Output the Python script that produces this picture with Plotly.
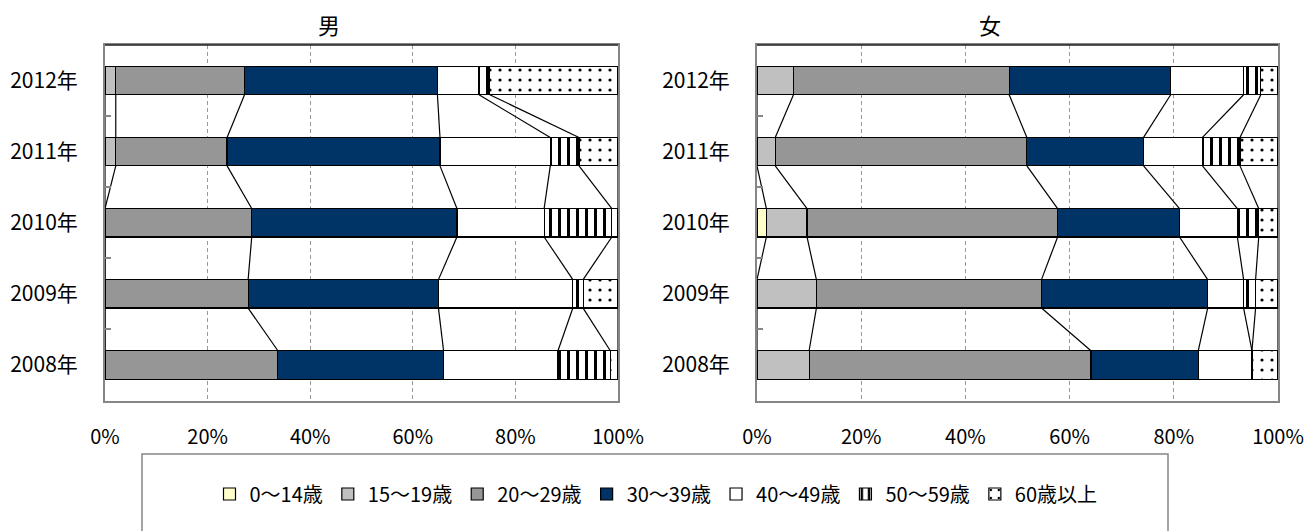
import numpy as np
import plotly.graph_objects as go

years = ["2008年", "2009年", "2010年", "2011年", "2012年"]
groups = ["0〜14歳", "15〜19歳", "20〜29歳", "30〜39歳", "40〜49歳", "50〜59歳", "60歳以上"]

# shares in %, order: 2008, 2009, 2010, 2011, 2012
male = {
    "0〜14歳": [0, 0, 0, 0, 0],
    "15〜19歳": [0, 0, 0, 2.1, 2.1],
    "20〜29歳": [33.7, 27.9, 28.6, 21.7, 25.1],
    "30〜39歳": [32.3, 37.1, 40.0, 41.5, 37.6],
    "40〜49歳": [22.3, 26.2, 17.0, 21.5, 8.1],
    "50〜59歳": [10.2, 2.0, 13.2, 5.6, 2.1],
    "60歳以上": [1.5, 6.8, 1.2, 7.6, 25.0],
}
female = {
    "0〜14歳": [0, 0, 1.8, 0, 0],
    "15〜19歳": [10.0, 11.4, 7.8, 3.5, 7.0],
    "20〜29歳": [54.1, 43.2, 48.1, 48.3, 41.4],
    "30〜39歳": [20.6, 31.9, 23.4, 22.4, 31.0],
    "40〜49歳": [10.3, 6.9, 11.1, 11.3, 14.0],
    "50〜59歳": [0, 2.3, 4.1, 7.2, 3.3],
    "60歳以上": [5.0, 4.3, 3.7, 7.3, 3.3],
}

colors = ["#FFFFCC", "#C0C0C0", "#969696", "#003366", "#FFFFFF", "#FFFFFF", "#FFFFFF"]
patterns = ["", "", "", "", "", "|", "."]

FONT = "Noto Sans CJK JP"
W, H = 1306, 531
pos = list(range(len(years)))
BW = 0.4


def px(x):
    return x / W


def py(y):
    return 1 - y / H


fig = go.Figure()


def add_panel(data, xa, ya, show):
    for i, g in enumerate(groups):
        if patterns[i] == "|":
            pat = dict(shape="|", fgcolor="black", bgcolor="white", fgopacity=1,
                       size=9, solidity=0.33, fillmode="replace")
        elif patterns[i] == ".":
            pat = dict(shape=".", fgcolor="black", bgcolor="white", fgopacity=1,
                       size=10, solidity=0.08, fillmode="replace")
        else:
            pat = dict(shape="")
        fig.add_trace(go.Bar(
            y=pos, x=data[g], orientation="h", name=g, width=BW,
            marker=dict(color=colors[i], line=dict(color="black", width=1.2),
                        pattern=pat),
            xaxis=xa, yaxis=ya, showlegend=show, legendgroup=g,
        ))
    # series lines between neighbouring bars
    cum = np.cumsum(np.array([data[g] for g in groups]), axis=0)
    lx, ly = [], []
    for j in range(len(years) - 1):
        for k in range(len(groups)):
            lx += [cum[k, j + 1], cum[k, j], None]
            ly += [j + 1 - BW / 2, j + BW / 2, None]
    fig.add_trace(go.Scatter(x=lx, y=ly, mode="lines", line=dict(color="black", width=1.2),
                             xaxis=xa, yaxis=ya, showlegend=False, hoverinfo="skip"))


add_panel(male, "x", "y", True)
add_panel(female, "x2", "y2", False)

ydom = [py(400.5), py(45)]
xdoms = [[px(105), px(618)], [px(757), px(1278)]]

xax = dict(range=[0, 100], tickvals=[0, 20, 40, 60, 80, 100],
           ticktext=["0%", "20%", "40%", "60%", "80%", "100%"],
           showgrid=True, gridcolor="#999999", griddash="4px,3px", gridwidth=1,
           zeroline=False, showline=True, linecolor="#868686", linewidth=1.5, mirror=True,
           ticks="", ticklabelstandoff=18, tickfont=dict(size=20, color="black"),
           ticklabeloverflow="allow", automargin=False, fixedrange=True)
yax = dict(range=[-0.5, 4.5], tickvals=pos, ticktext=years, showgrid=False,
           zeroline=False, showline=True, linecolor="#868686", linewidth=2, mirror=True,
           ticks="", ticklabelstandoff=21, tickfont=dict(size=21, color="black"),
           minor=dict(tickvals=[0.5, 1.5, 2.5, 3.5], ticks="inside", ticklen=6,
                      tickcolor="#868686", tickwidth=1.5),
           automargin=False, fixedrange=True)

fig.update_layout(
    width=W, height=H, barmode="stack", bargap=0.6,
    paper_bgcolor="white", plot_bgcolor="white",
    margin=dict(l=0, r=0, t=0, b=0),
    font=dict(family=FONT, color="black"),
    xaxis=dict(xax, domain=xdoms[0], anchor="y"),
    yaxis=dict(yax, domain=ydom, anchor="x"),
    xaxis2=dict(xax, domain=xdoms[1], anchor="y2"),
    yaxis2=dict(yax, domain=ydom, anchor="x2"),
    legend=dict(orientation="h", x=px(656), xanchor="center", y=py(494), yanchor="middle",
                font=dict(size=20), itemwidth=30, traceorder="normal",
                bgcolor="rgba(0,0,0,0)"),
    showlegend=True,
)

# titles
fig.add_annotation(text="男", x=px(329), y=py(24), xref="paper", yref="paper",
                   xanchor="center", yanchor="middle",
                   showarrow=False, font=dict(size=22))
fig.add_annotation(text="女", x=px(990), y=py(24), xref="paper", yref="paper",
                   xanchor="center", yanchor="middle",
                   showarrow=False, font=dict(size=22))

# dark top border of each plot area
for xr, yr in [("x domain", "y domain"), ("x2 domain", "y2 domain")]:
    fig.add_shape(type="line", xref=xr, yref=yr, x0=0, x1=1, y0=1, y1=1,
                  line=dict(color="#222222", width=1.5))

# legend frame
fig.add_shape(type="rect", xref="paper", yref="paper", x0=px(142), x1=px(1168),
              y0=-0.05, y1=py(454), line=dict(color="#868686", width=1.5),
              fillcolor="rgba(0,0,0,0)", layer="below")

# drop the default 8px body margin so the figure sits at the window corner
fig.write_html("out.html", config={"displayModeBar": False},
               post_script="document.body.style.margin='0';")
